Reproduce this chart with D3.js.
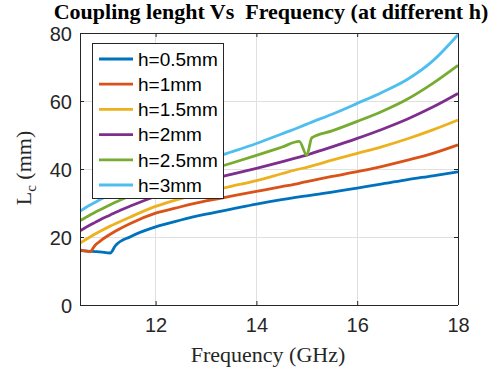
<!DOCTYPE html>
<html>
<head>
<meta charset="utf-8">
<script src="https://cdn.jsdelivr.net/npm/d3@7"></script>
<style>
  html, body { margin: 0; padding: 0; background: #fff; }
  svg { display: block; }
</style>
</head>
<body>
<script>
// ---- Data ----
const freq = [10.5, 10.7, 10.8, 10.9, 11.1, 11.2, 11.5, 12, 12.5, 13, 13.5, 14, 14.5, 14.85, 15, 15.1, 15.5, 16, 16.5, 17, 17.5, 18];
const h05 = [16.0, 15.8, 15.7, 15.6, 15.3, 17.4, 20.1, 23.0, 25.0, 26.7, 28.2, 29.7, 31.0, 31.8, 32.1, 32.3, 33.2, 34.4, 35.6, 36.9, 38.0, 39.2];
const h1  = [16.2, 15.7, 17.6, 18.8, 20.8, 21.7, 24.0, 27.0, 28.9, 30.6, 32.0, 33.4, 34.8, 35.8, 36.3, 36.6, 37.8, 39.2, 40.8, 42.6, 44.6, 47.1];
const h15 = [18.2, 20.0, 20.9, 21.7, 23.2, 23.9, 25.9, 29.0, 31.3, 33.2, 34.9, 36.6, 38.6, 40.0, 40.5, 40.9, 42.6, 44.6, 46.6, 48.9, 51.5, 54.4];
const h2  = [21.8, 23.5, 24.3, 25.1, 26.5, 27.2, 29.1, 32.0, 34.6, 36.6, 38.4, 40.2, 42.1, 43.5, 44.1, 44.6, 46.5, 49.0, 51.7, 54.7, 58.2, 62.2];
const h25 = [24.8, 26.5, 27.3, 28.0, 29.5, 30.2, 32.1, 35.0, 37.5, 39.5, 41.7, 44.0, 46.4, 48.1, 44.1, 49.2, 51.2, 54.0, 57.0, 60.6, 65.2, 70.5];
const h3  = [27.6, 29.4, 30.2, 31.0, 32.5, 33.2, 35.2, 38.2, 40.5, 42.6, 45.0, 47.5, 50.3, 52.3, 53.2, 53.8, 56.1, 59.3, 62.6, 66.4, 71.8, 79.5];

const seriesNames = ["h=0.5mm", "h=1mm", "h=1.5mm", "h=2mm", "h=2.5mm", "h=3mm"];
const seriesValues = [h05, h1, h15, h2, h25, h3];
const seriesColors = ["#0072BD", "#D95319", "#EDB120", "#7E2F8E", "#77AC30", "#4DBEEE"];

const xTicks = [12, 14, 16, 18];
const yTicks = [0, 20, 40, 60, 80];
const xDomain = [10.5, 18];
const yDomain = [0, 80];

const titleText = "Coupling lenght Vs  Frequency (at different h)";
const xLabelText = "Frequency (GHz)";

// ---- Layout ----
const W = 500, H = 373;
const plot = { left: 80, right: 458, top: 33, bottom: 305 };
const axisColor = "#262626";
const gridColor = "#e0e0e0";
const sans = "'Liberation Sans', Arial, Helvetica, sans-serif";
const serif = "'Liberation Serif', 'Times New Roman', Times, serif";

const svg = d3.select("body").append("svg")
  .attr("width", W).attr("height", H)
  .attr("viewBox", `0 0 ${W} ${H}`);

const x = d3.scaleLinear().domain(xDomain).range([plot.left, plot.right]);
const y = d3.scaleLinear().domain(yDomain).range([plot.bottom, plot.top]);

// grid
const grid = svg.append("g");
grid.selectAll("line.gx").data(xTicks).join("line")
  .attr("x1", d => x(d)).attr("x2", d => x(d))
  .attr("y1", plot.top).attr("y2", plot.bottom)
  .attr("stroke", gridColor).attr("stroke-width", 1).attr("shape-rendering", "crispEdges");
grid.selectAll("line.gy").data(yTicks).join("line")
  .attr("y1", d => y(d)).attr("y2", d => y(d))
  .attr("x1", plot.left).attr("x2", plot.right)
  .attr("stroke", gridColor).attr("stroke-width", 1).attr("shape-rendering", "crispEdges");

// clip
svg.append("clipPath").attr("id", "clip").append("rect")
  .attr("x", plot.left).attr("y", plot.top - 3)
  .attr("width", plot.right - plot.left + 3).attr("height", plot.bottom - plot.top + 3);

// lines
const line = d3.line()
  .x((d, i) => x(freq[i]))
  .y(d => y(d))
  .curve(d3.curveMonotoneX);

const lines = svg.append("g").attr("clip-path", "url(#clip)");
lines.selectAll("path").data(seriesValues).join("path")
  .attr("d", d => line(d))
  .attr("fill", "none")
  .attr("stroke", (d, i) => seriesColors[i])
  .attr("stroke-width", 2.8)
  .attr("stroke-linejoin", "round")
  .attr("stroke-linecap", "butt");

// axes (inward ticks, box)
const tickLen = 4;
const xAxisB = d3.axisBottom(x).tickValues(xTicks).tickSize(-tickLen).tickPadding(13).tickFormat(d3.format("d"));
const xAxisT = d3.axisTop(x).tickValues(xTicks).tickSize(-tickLen).tickFormat("");
const yAxisL = d3.axisLeft(y).tickValues(yTicks).tickSize(-tickLen).tickPadding(8).tickFormat(d3.format("d"));
const yAxisR = d3.axisRight(y).tickValues(yTicks).tickSize(-tickLen).tickFormat("");

function styleAxis(g) {
  g.select(".domain").attr("stroke", axisColor).attr("stroke-width", 1);
  g.selectAll(".tick line").attr("stroke", axisColor).attr("stroke-width", 1);
  g.selectAll(".tick text").attr("fill", axisColor)
    .style("font-family", sans).style("font-size", "20px");
}
const gxB = svg.append("g").attr("transform", `translate(0,${plot.bottom})`).call(xAxisB).call(styleAxis);
gxB.select(".domain").attr("d", `M${plot.left},0.5H${plot.right}`);
const gxT = svg.append("g").attr("transform", `translate(0,${plot.top})`).call(xAxisT).call(styleAxis);
gxT.select(".domain").attr("d", `M${plot.left},0.5H${plot.right}`);
const gyL = svg.append("g").attr("transform", `translate(${plot.left},0)`).call(yAxisL).call(styleAxis);
gyL.select(".domain").attr("d", `M0.5,${plot.top}V${plot.bottom}`);
gyL.selectAll(".tick text").attr("dy", "0.36em");
const gyR = svg.append("g").attr("transform", `translate(${plot.right},0)`).call(yAxisR).call(styleAxis);
gyR.select(".domain").attr("d", `M0.5,${plot.top}V${plot.bottom}`);

// legend
const leg = { x: 92, y: 43, w: 131, h: 155, row0: 59, rowStep: 25.2 };
const lg = svg.append("g");
lg.append("rect")
  .attr("x", leg.x + 0.5).attr("y", leg.y + 0.5)
  .attr("width", leg.w).attr("height", leg.h)
  .attr("fill", "#fff").attr("stroke", axisColor).attr("stroke-width", 1);
const rows = lg.selectAll("g.row").data(seriesNames).join("g")
  .attr("transform", (d, i) => `translate(0,${leg.row0 + i * leg.rowStep})`);
rows.append("line")
  .attr("x1", 99).attr("x2", 133).attr("y1", 0).attr("y2", 0)
  .attr("stroke", (d, i) => seriesColors[i]).attr("stroke-width", 2.8);
rows.append("text")
  .attr("x", 138).attr("y", 0).attr("dy", "0.36em")
  .attr("fill", "#000")
  .style("font-family", sans).style("font-size", "19px")
  .text(d => d);

// title
svg.append("text")
  .attr("x", 271).attr("y", 19)
  .attr("text-anchor", "middle")
  .style("font-family", serif).style("font-size", "22px").style("font-weight", "bold")
  .style("white-space", "pre")
  .attr("fill", "#000")
  .text(titleText);

// x label
svg.append("text")
  .attr("x", 268).attr("y", 362)
  .attr("text-anchor", "middle")
  .style("font-family", serif).style("font-size", "22px")
  .attr("fill", axisColor)
  .text(xLabelText);

// y label with subscript
const yl = svg.append("text")
  .attr("transform", `translate(31,168) rotate(-90)`)
  .attr("text-anchor", "middle")
  .style("font-family", serif).style("font-size", "22px")
  .attr("fill", axisColor);
yl.append("tspan").text("L");
yl.append("tspan").attr("dy", 5).style("font-size", "15px").text("c");
yl.append("tspan").attr("dy", -5).style("white-space", "pre").text(" (mm)");
</script>
</body>
</html>
